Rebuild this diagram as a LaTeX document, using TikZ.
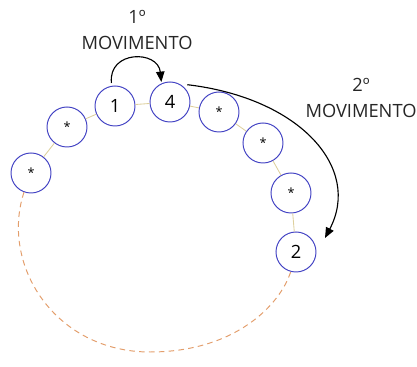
\documentclass[tikz,border=0pt]{standalone}
\usepackage{fontspec}
\setmainfont{Open Sans}
\usetikzlibrary{arrows.meta}
\definecolor{ring}{HTML}{4444C4}
\definecolor{sand}{HTML}{DDCF9C}
\definecolor{peach}{HTML}{E39E6C}

\begin{document}
\begin{tikzpicture}[x=0.025cm,y=-0.025cm,>={Triangle[length=2.6mm,width=2.1mm]}]
\tikzset{seat/.style={draw=ring,line width=0.7pt,circle,minimum size=1cm,inner sep=0pt,fill=white,font=\fontsize{13}{15}\selectfont},
  star/.style={seat,font=\fontsize{9}{10}\selectfont},
  link/.style={draw=sand,line width=0.6pt},
  move/.style={->,black,line width=0.8pt},
  lbl/.style={align=center,font=\fontsize{13}{18}\selectfont,text=black!85}}
\useasboundingbox (0,0) rectangle (417,367);
\node[star] (s1) at (31,173) {*};
\node[star] (s2) at (67,127) {*};
\node[seat] (n1) at (115,106) {1};
\node[seat] (n4) at (170,102) {4};
\node[star] (s3) at (219,112) {*};
\node[star] (s4) at (263,143) {*};
\node[star] (s5) at (291,193) {*};
\node[seat] (n2) at (296,252) {2};
\draw[link] (s1)--(s2);
\draw[link] (s2)--(n1);
\draw[link] (n1)--(n4);
\draw[link] (n4)--(s3);
\draw[link] (s3)--(s4);
\draw[link] (s4)--(s5);
\draw[link] (s5)--(n2);
\draw[peach,line width=0.7pt,dash pattern=on 4pt off 3pt] (s1.250) .. controls (0,265) and (55,352) .. (150,352)
  .. controls (235,352) and (280,305) .. (n2.255);
\node[lbl] (mov1) at (137,30) {1º\\MOVIMENTO};
\node[lbl] (mov2) at (361,98) {2º\\MOVIMENTO};
\coordinate (tip2) at (325,238);
\draw[move] ([yshift=2pt]n1.100) .. controls (108,50) and (158,50) .. ([yshift=1pt]n4.115);
\draw[move] ([xshift=2pt,yshift=2pt]n4.45) .. controls (300,98) and (362,168) .. (tip2);
\end{tikzpicture}
\end{document}
